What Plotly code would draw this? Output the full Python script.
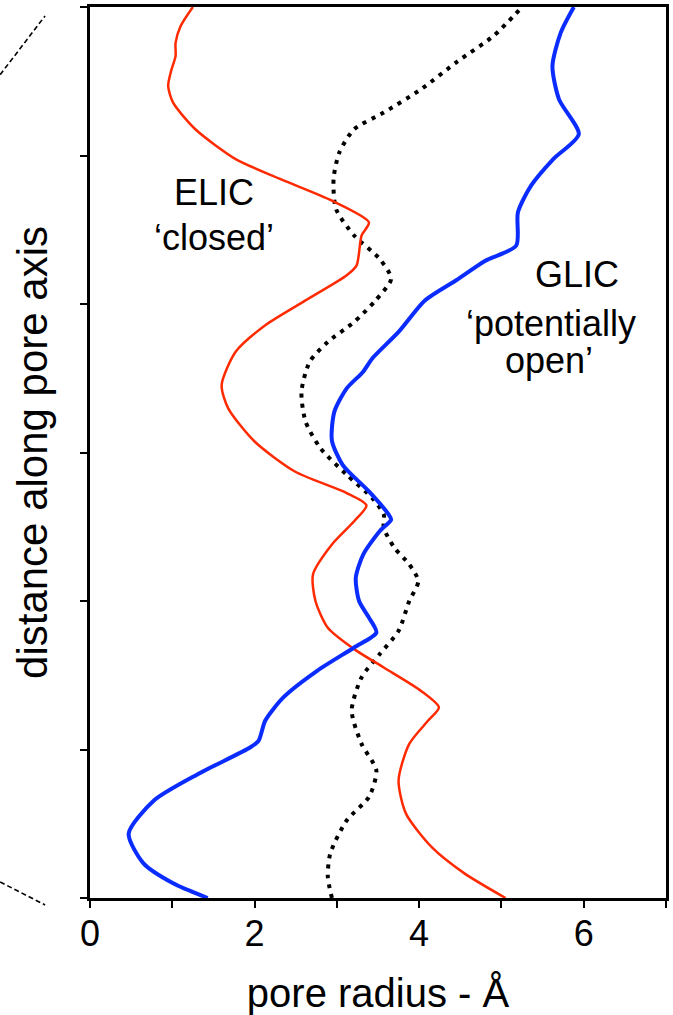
import plotly.graph_objects as go

# ---- data (radius in Å vs distance along pore axis, arbitrary units) ----
elic_dist = [0, 0.166, 0.344, 0.568, 0.792, 1.038, 1.195, 1.284, 1.396, 1.552, 1.676, 1.82, 2.0,
             2.179, 2.381, 2.537, 2.644, 2.727, 2.872, 3.074, 3.297, 3.454, 3.678, 3.857, 4.024,
             4.193, 4.260, 4.461, 4.550, 4.696, 4.842, 4.976, 5.177, 5.356, 5.467, 5.568, 5.669,
             5.758, 5.870, 6.0]
elic_radius = [5.05, 4.55, 4.15, 3.84, 3.75, 3.88, 4.11, 4.24, 4.02, 3.57, 3.21, 2.89, 2.74,
               2.71, 2.94, 3.21, 3.36, 3.12, 2.49, 2.00, 1.68, 1.60, 1.77, 2.13, 2.62,
               3.12, 3.24, 3.30, 3.39, 2.94, 2.31, 1.77, 1.28, 1.01, 0.95, 0.985, 1.04,
               1.04, 1.10, 1.25]

glic_dist = [0, 0.099, 0.233, 0.434, 0.658, 0.837, 1.015, 1.060, 1.195, 1.351, 1.530, 1.687,
             1.787, 1.888, 2.0, 2.157, 2.313, 2.470, 2.548, 2.582, 2.738, 2.917, 3.08, 3.275,
             3.432, 3.544, 3.633, 3.812, 4.024, 4.160, 4.290, 4.394, 4.617, 4.797, 4.976, 5.143,
             5.378, 5.602, 5.826, 6.0]
glic_radius = [1.43, 1.01, 0.65, 0.47, 0.78, 1.32, 1.95, 2.05, 2.13, 2.35, 2.76, 3.21,
               3.48, 3.39, 3.27, 3.23, 3.32, 3.52, 3.66, 3.63, 3.39, 3.07, 2.94, 2.97,
               3.12, 3.32, 3.43, 3.75, 4.07, 4.45, 4.80, 5.18, 5.20, 5.36, 5.63, 5.94,
               5.70, 5.62, 5.72, 5.88]

ref_dist = [0, 0.143, 0.300, 0.523, 0.680, 0.859, 1.038, 1.262, 1.485, 1.642, 1.799, 2.0, 2.134,
            2.246, 2.358, 2.492, 2.582, 2.693, 2.850, 3.029, 3.208, 3.409, 3.611, 3.745, 3.879,
            4.024, 4.170, 4.304, 4.461, 4.640, 4.842, 5.020, 5.177, 5.289, 5.445, 5.631, 5.808,
            6.0]
ref_radius = [2.94, 2.89, 2.92, 3.12, 3.39, 3.48, 3.30, 3.18, 3.30, 3.52, 3.75, 3.88, 3.99,
              3.88, 3.70, 3.57, 3.57, 3.43, 3.12, 2.80, 2.62, 2.57, 2.67, 2.89, 3.21,
              3.47, 3.66, 3.52, 3.21, 2.99, 2.96, 3.03, 3.21, 3.57, 4.02, 4.46, 4.91,
              5.25]

x_tickvals = [0, 1, 2, 3, 4, 5, 6, 7]
x_ticktext = ["0", "", "2", "", "4", "", "6", ""]
y_tickvals = [0, 1, 2, 3, 4, 5, 6]

FONT = "Liberation Sans, Arial, Helvetica, sans-serif"

fig = go.Figure()
fig.add_trace(go.Scatter(x=ref_radius, y=ref_dist, mode="lines",
                         line=dict(color="black", width=4, dash="4px,6px", shape="spline", smoothing=0.7),
                         showlegend=False, hoverinfo="skip"))
fig.add_trace(go.Scatter(x=elic_radius, y=elic_dist, mode="lines",
                         line=dict(color="#FF2A00", width=2.5, shape="spline", smoothing=0.7),
                         showlegend=False, name="ELIC"))
fig.add_trace(go.Scatter(x=glic_radius, y=glic_dist, mode="lines",
                         line=dict(color="#0A2CFF", width=4, shape="spline", smoothing=0.7),
                         showlegend=False, name="GLIC"))

labels = [
    ("ELIC", 1.512, 4.752),
    ("\u2018closed\u2019", 1.502, 4.450),
    ("GLIC", 5.92, 4.201),
    ("\u2018potentially", 5.608, 3.869),
    ("open\u2019", 5.575, 3.617),
]
for txt, lx, ly in labels:
    fig.add_annotation(x=lx, y=ly, xref="x", yref="y", text=txt, showarrow=False,
                       font=dict(family=FONT, size=36, color="black"),
                       xanchor="center", yanchor="middle")

# connector lines from previous panel (decorative)
fig.add_shape(type="line", xref="paper", yref="paper", x0=-0.156, y0=0.924, x1=-0.078, y1=0.990,
              line=dict(color="black", width=1.6, dash="5px,3px"))
fig.add_shape(type="line", xref="paper", yref="paper", x0=-0.156, y0=0.018, x1=-0.078, y1=-0.0078,
              line=dict(color="black", width=1.6, dash="5px,3px"))

fig.update_layout(
    width=673, height=1015,
    margin=dict(l=90, r=6, t=4, b=117),
    paper_bgcolor="white", plot_bgcolor="white",
    font=dict(family=FONT, color="black"),
    xaxis=dict(range=[0, 7], tickvals=x_tickvals, ticktext=x_ticktext,
               ticks="outside", ticklen=7, tickwidth=2, tickcolor="black",
               ticklabelstandoff=-5,
               showline=True, linecolor="black", linewidth=2.5, mirror=True,
               showgrid=False, zeroline=False,
               tickfont=dict(family=FONT, size=36),
               title=dict(text="pore radius - \u00c5", font=dict(family=FONT, size=40), standoff=28)),
    yaxis=dict(range=[0, 6], tickvals=y_tickvals, showticklabels=False,
               ticks="outside", ticklen=7, tickwidth=2, tickcolor="black",
               showline=True, linecolor="black", linewidth=2.5, mirror=True,
               showgrid=False, zeroline=False,
               title=dict(text="distance along pore axis", font=dict(family=FONT, size=42), standoff=20)),
)

fig.write_html("out.html")
